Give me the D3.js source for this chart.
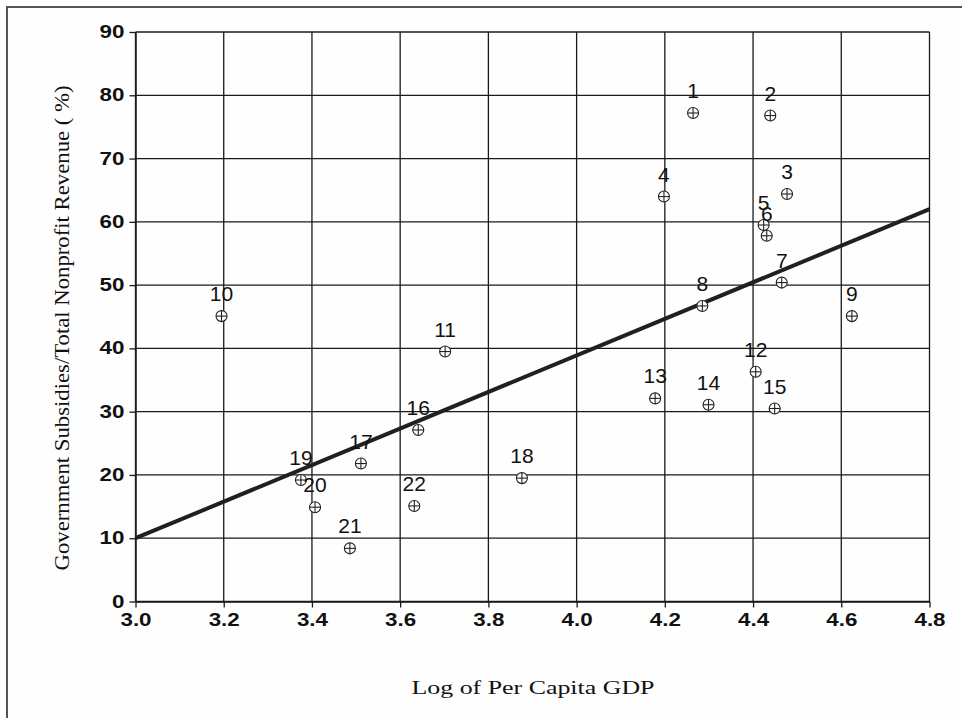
<!DOCTYPE html>
<html>
<head>
<meta charset="utf-8">
<script src="https://cdn.jsdelivr.net/npm/d3@7"></script>
<style>
  html, body { margin: 0; padding: 0; background: #fefefe; }
  svg { display: block; }
</style>
</head>
<body>
<svg id="chart" width="962" height="718"></svg>
<script>
// Country numbers, log per-capita GDP and government share of nonprofit revenue (%)
const labels = ["1","2","3","4","5","6","7","8","9","10","11","12","13","14","15","16","17","18","19","20","21","22"];
const logGdp = [4.264, 4.439, 4.477, 4.198, 4.424, 4.431, 4.465, 4.285, 4.624, 3.195, 3.702,
                4.406, 4.178, 4.299, 4.449, 3.641, 3.511, 3.876, 3.375, 3.407, 3.486, 3.632];
const govShare = [77.2, 76.8, 64.4, 64.0, 59.5, 57.8, 50.4, 46.7, 45.1, 45.1, 39.5,
                  36.3, 32.1, 31.1, 30.5, 27.1, 21.8, 19.5, 19.2, 14.9, 8.4, 15.1];
// Fitted trend line endpoints
const trendX = [3.0, 4.8];
const trendY = [10, 62];
// Axis ticks
const xTicks = [3.0, 3.2, 3.4, 3.6, 3.8, 4.0, 4.2, 4.4, 4.6, 4.8];
const yTicks = [0, 10, 20, 30, 40, 50, 60, 70, 80, 90];

const svg = d3.select("#chart");
const plotLeft = 135.5, plotRight = 929.5, plotTop = 32, plotBottom = 601.5;

// outer frame (runs off the right and bottom edges)
svg.append("rect")
  .attr("x", 7).attr("y", 7).attr("width", 1000).attr("height", 1000)
  .attr("fill", "none").attr("stroke", "#555").attr("stroke-width", 2);

const x = d3.scaleLinear().domain([3.0, 4.8]).range([plotLeft, plotRight]);
const y = d3.scaleLinear().domain([0, 90]).range([plotBottom, plotTop]);

// grid
const g = svg.append("g");
g.selectAll("line.v").data(xTicks).join("line")
  .attr("x1", d => x(d)).attr("x2", d => x(d))
  .attr("y1", plotTop).attr("y2", plotBottom)
  .attr("stroke", "#1a1a1a").attr("stroke-width", 1.3);
g.selectAll("line.h").data(yTicks).join("line")
  .attr("x1", plotLeft).attr("x2", plotRight)
  .attr("y1", d => y(d)).attr("y2", d => y(d))
  .attr("stroke", "#1a1a1a").attr("stroke-width", 1.3);

// axes; tick labels use a wide bold face
const tickFont = "bold 17.5px 'Liberation Sans', Arial, sans-serif";
const wide = 1.28;
const xAxis = svg.append("g").attr("transform", `translate(0,${plotBottom})`)
  .call(d3.axisBottom(x).tickValues(xTicks).tickFormat(d3.format(".1f")).tickSize(6).tickSizeOuter(0));
const yAxis = svg.append("g").attr("transform", `translate(${plotLeft},0)`)
  .call(d3.axisLeft(y).tickValues(yTicks).tickFormat(d3.format("d")).tickSize(6).tickSizeOuter(0));
[xAxis, yAxis].forEach(a => {
  a.select(".domain").attr("stroke", "#1a1a1a").attr("stroke-width", 1.5);
  a.selectAll(".tick line").attr("stroke", "#1a1a1a").attr("stroke-width", 1.3);
  a.selectAll(".tick text").attr("fill", "#111").style("font", tickFont)
    .attr("transform", `scale(${wide},1)`);
});
xAxis.selectAll(".tick text").attr("dy", "0.71em").attr("y", 12);
yAxis.selectAll(".tick text").attr("x", -11 / wide);

// trend line
svg.append("line")
  .attr("x1", x(trendX[0])).attr("y1", y(trendY[0]))
  .attr("x2", x(trendX[1])).attr("y2", y(trendY[1]))
  .attr("stroke", "#231f20").attr("stroke-width", 4);

// points with crosshair markers and their numbers
const pts = labels.map((l, i) => ({ l, gx: logGdp[i], gy: govShare[i] }));
const pg = svg.append("g").selectAll("g").data(pts).join("g")
  .attr("transform", d => `translate(${x(d.gx)},${y(d.gy)})`);
pg.append("circle").attr("r", 5.5).attr("fill", "#fefefe").attr("stroke", "#222").attr("stroke-width", 1.1);
pg.append("line").attr("x1", -5.5).attr("x2", 5.5).attr("stroke", "#222").attr("stroke-width", 1.1);
pg.append("line").attr("y1", -5.5).attr("y2", 5.5).attr("stroke", "#222").attr("stroke-width", 1.1);
pg.append("text").text(d => d.l)
  .attr("y", -15).attr("text-anchor", "middle")
  .attr("fill", "#111")
  .style("font", "21px 'Liberation Sans', Arial, sans-serif");

// axis titles
svg.append("text")
  .attr("x", 533).attr("y", 694)
  .attr("text-anchor", "middle")
  .attr("textLength", 243).attr("lengthAdjust", "spacingAndGlyphs")
  .attr("fill", "#111")
  .style("font", "19px 'Liberation Serif', 'Times New Roman', serif")
  .text("Log of Per Capita GDP");
svg.append("text")
  .attr("transform", `translate(69,328) rotate(-90)`)
  .attr("text-anchor", "middle")
  .attr("textLength", 485).attr("lengthAdjust", "spacingAndGlyphs")
  .attr("fill", "#111")
  .style("font", "22px 'Liberation Serif', 'Times New Roman', serif")
  .text("Government Subsidies/Total Nonprofit Revenue ( %)");
</script>
</body>
</html>
